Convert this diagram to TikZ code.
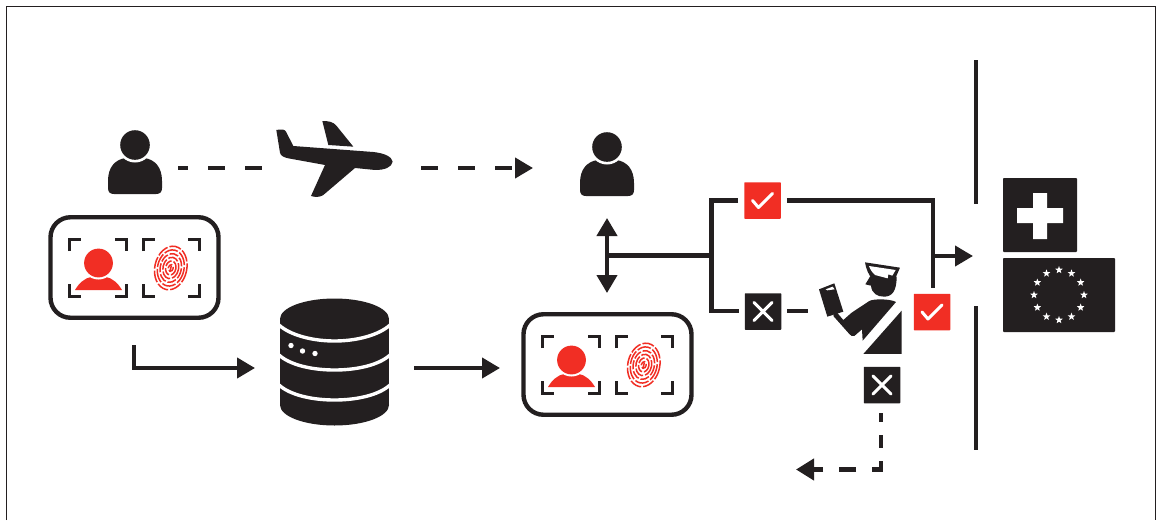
\documentclass[tikz,border=0pt]{standalone}
\usetikzlibrary{arrows.meta,shapes.geometric,calc}
\definecolor{ink}{HTML}{231F20}
\definecolor{alert}{HTML}{F12E24}
\tikzset{
  x=1pt,y=-1pt,
  link/.style={draw=ink,line width=4.2pt},
  tiplink/.style={link,-{Triangle[length=18pt,width=20pt]}},
  dashlink/.style={link,dash pattern=on 17pt off 20pt},
  wall/.style={draw=ink,line width=3.8pt},
  flagbox/.style={fill=ink,inner sep=0pt,rounded corners=0.8pt},
  tick/.style={draw=white,line width=3pt,line cap=round,line join=round},
  dbband/.style={draw=white,line width=3.4pt},
  eustar/.style={star,star points=5,star point ratio=2.4,fill=white,inner sep=0pt,minimum size=8pt},
  person/.pic={
    \fill[ink] (-27,36) .. controls (-27,22) and (-20,15) .. (-10,13) -- (10,13)
       .. controls (20,15) and (27,22) .. (27,36) -- (27,43)
       .. controls (27,47) and (25,49) .. (21,49) -- (-21,49)
       .. controls (-25,49) and (-27,47) .. (-27,43) -- cycle;
    \fill[white] (0,0) circle[radius=17.5];
    \fill[ink] (0,0) circle[radius=14.8];
  },
  idcard/.pic={
    \node[draw=ink,line width=4.4pt,rounded corners=20pt,minimum width=168pt,minimum height=100.5pt,inner sep=0pt] (-frame) at (85.5,51.5) {};
    \foreach \l/\r in {19/79,93/152}{
      \draw[ink,line width=3pt] (\l+1.5,35) -- (\l+1.5,23.5) -- (\l+13,23.5);
      \draw[ink,line width=3pt] (\r-13,23.5) -- (\r-1.5,23.5) -- (\r-1.5,35);
      \draw[ink,line width=3pt] (\l+1.5,68) -- (\l+1.5,80.5) -- (\l+13,80.5);
      \draw[ink,line width=3pt] (\r-13,80.5) -- (\r-1.5,80.5) -- (\r-1.5,68);
    }
    \fill[alert] (26,74) .. controls (30,67) and (36,62) .. (42,61) -- (57,61)
       .. controls (63,62) and (69,67) .. (73,74) -- cycle;
    \fill[white] (49.5,47) circle[radius=16.5];
    \fill[alert] (49.5,47) circle[radius=14.4];
    \begin{scope}[shift={(122,51)},rotate=-12]
      \foreach \r/\d in {3/6,6.4/8,9.8/11,13.2/9,16.6/14,20/12}{
        \draw[alert,line width=1.5pt,dash pattern=on \d pt off 2pt] (0,1) ellipse[x radius=\r*0.8,y radius=\r*1.1];
      }
      \draw[alert,line width=1.5pt] (0,-1) -- (0,5);
    \end{scope}
  },
  okbox/.pic={
    \node[fill=alert,inner sep=0pt,minimum size=36.5pt,rounded corners=0.6pt] (-box) at (0,0) {};
    \draw[tick] (-10,0) -- (-4,7) -- (10,-7);
  },
  nobox/.pic={
    \node[fill=ink,inner sep=0pt,minimum size=36.5pt,rounded corners=0.6pt] (-box) at (0,0) {};
    \draw[tick] (-9,-9) -- (9,9) (-9,9) -- (9,-9);
  },
}
\begin{document}
\begin{tikzpicture}
\useasboundingbox (0,0) rectangle (1157,520);
\fill[white] (0,0) rectangle (1157,520);
\draw[ink,line width=1pt] (6.5,520) -- (6.5,6) -- (1155.5,6) -- (1155.5,520);

% persons and cards
\pic (traveller) at (135,145) {person};
\pic (arrived) at (607,147) {person};
\pic (cardA) at (49,216) {idcard};
\pic (cardB) at (522,313) {idcard};

% aeroplane
\begin{scope}[shift={(260,110)},x=0.3333pt,y=-0.3333pt]
\fill[ink] (398,155)
  .. controls (395,140) and (375,130) .. (340,126)
  -- (100,108) -- (78,65)
  .. controls (75,58) and (65,57) .. (49,60)
  -- (60,128)
  .. controls (62,138) and (72,142) .. (85,145)
  -- (195,165) -- (153,258)
  .. controls (165,262) and (180,262) .. (190,255)
  -- (285,174) -- (345,180)
  .. controls (375,180) and (395,172) .. cycle;
\fill[ink] (187,33) .. controls (205,33) and (220,35) .. (230,48)
  -- (280,110) -- (205,105) -- cycle;
\end{scope}

% database
\fill[ink] (280,319) rectangle (389,405);
\fill[ink] (334.5,319) ellipse[x radius=54.5,y radius=20.5];
\fill[ink] (334.5,405) ellipse[x radius=54.5,y radius=20.5];
\draw[dbband] (279,325) .. controls (290,335) and (312,341) .. (334.5,341) .. controls (357,341) and (379,335) .. (390,325);
\draw[dbband] (279,355) .. controls (290,365) and (312,370) .. (334.5,370) .. controls (357,370) and (379,365) .. (390,355);
\draw[dbband] (279,385) .. controls (290,395) and (312,400) .. (334.5,400) .. controls (357,400) and (379,395) .. (390,385);
\fill[white] (291,345.5) circle[radius=2.7] (302.5,351) circle[radius=2.7] (315,353.5) circle[radius=2.7];

% check boxes
\pic (okTop) at (762.5,200.5) {okbox};
\pic (noLeft) at (763,311.5) {nobox};
\pic (okGuard) at (932,312) {okbox};
\pic (noGuard) at (882,385) {nobox};

% border guard
\begin{scope}[shift={(790,240)},x=0.3333pt,y=-0.3333pt]
  \fill[ink] (87,148) -- (133,130) -- (160,215) -- (112,230) -- cycle;
  \fill[white] (107,148) -- (128,140) -- (134,148) -- (112,151) -- cycle;
  \fill[ink] (136,212) -- (160,240) -- (185,218) -- (238,183) .. controls (250,176) and (300,176) .. (318,186)
     -- (218,302) -- (216,268) -- (193,288) .. controls (187,290) and (183,288) .. (178,282) -- (130,228) -- cycle;
  \fill[ink] (335,212) -- (335,342) -- (220,342) -- cycle;
  \fill[ink] (240,110) -- (226,133) -- (243,137) .. controls (245,160) and (262,170) .. (282,170)
     .. controls (305,170) and (320,155) .. (320,110) -- cycle;
  \fill[ink] (225,67) -- (330,83) -- (316,115) -- (250,122) .. controls (235,105) and (228,85) .. cycle;
  \fill[white] (237,78) -- (317,90) -- (307,107) -- (295,103) -- (293,115) -- (255,105) .. controls (246,97) and (240,87) .. cycle;
\end{scope}

% wall and flags
\coordinate (wallTop) at (976,60);
\coordinate (wallTopEnd) at (976,204);
\coordinate (wallLow) at (976,306);
\coordinate (wallLowEnd) at (976,450);
\draw[wall] (wallTop) -- (wallTopEnd);
\draw[wall] (wallLow) -- (wallLowEnd);
\node[flagbox,minimum size=74pt] (swiss) at (1040,215) {};
\fill[white] (1033,193) rectangle (1047,239) (1017,208) rectangle (1063,223);
\node[flagbox,minimum width=112pt,minimum height=74pt] (eu) at (1059,295) {};
\foreach \i in {0,...,11}{
  \node[eustar] (s\i) at ($(eu.center)+(\i*30:25)$) {};
}

% connectors
\coordinate (flyA) at (178,168);
\coordinate (flyB) at (262,168);
\coordinate (flyC) at (421,168);
\coordinate (flyD) at (533,168);
\draw[dashlink,dash phase=7pt] (flyA) -- (flyB);
\draw[dashlink,-{Triangle[length=18pt,width=20pt]}] (flyC) -- (flyD);
\coordinate (enrolA) at (134,345);
\coordinate (enrolB) at (255,368);
\draw[tiplink] (enrolA) |- (enrolB);
\coordinate (dbOut) at (414,368);
\coordinate (dbIn) at (500,368);
\draw[tiplink] (dbOut) -- (dbIn);
\coordinate (chkTop) at (607,218);
\coordinate (chkLow) at (607,293);
\draw[link,{Triangle[length=18pt,width=20pt]}-{Triangle[length=18pt,width=20pt]}] (chkTop) -- (chkLow);
\coordinate (junction) at (607,255.5);
\coordinate (fork) at (711.5,255.5);
\draw[link] (junction) -- (fork);
\coordinate (forkLow) at (711.5,311);
\draw[link] ($(okTop-box.west)+(-6,0)$) -| (forkLow) -- ++(27,0);
\coordinate (passCorner) at (933,200.5);
\coordinate (passEnd) at (933,288);
\draw[link] ($(okTop-box.east)+(6,0)$) -- (passCorner) -- (passEnd);
\coordinate (passOut) at (933,256);
\coordinate (passIn) at (973,256);
\draw[tiplink] (passOut) -- (passIn);
\coordinate (toGuardA) at (787,311);
\coordinate (toGuardB) at (808,311);
\draw[link] (toGuardA) -- (toGuardB);
\coordinate (backA) at (881,413);
\coordinate (backB) at (881,469.5);
\coordinate (backC) at (796,469.5);
\draw[link,dash pattern=on 9pt off 13pt on 13pt off 13pt on 17.5pt off 16pt on 17pt off 16pt on 40pt,-{Triangle[length=18pt,width=21pt]}] (backA) -- (backB) -- (backC);
\end{tikzpicture}
\end{document}
